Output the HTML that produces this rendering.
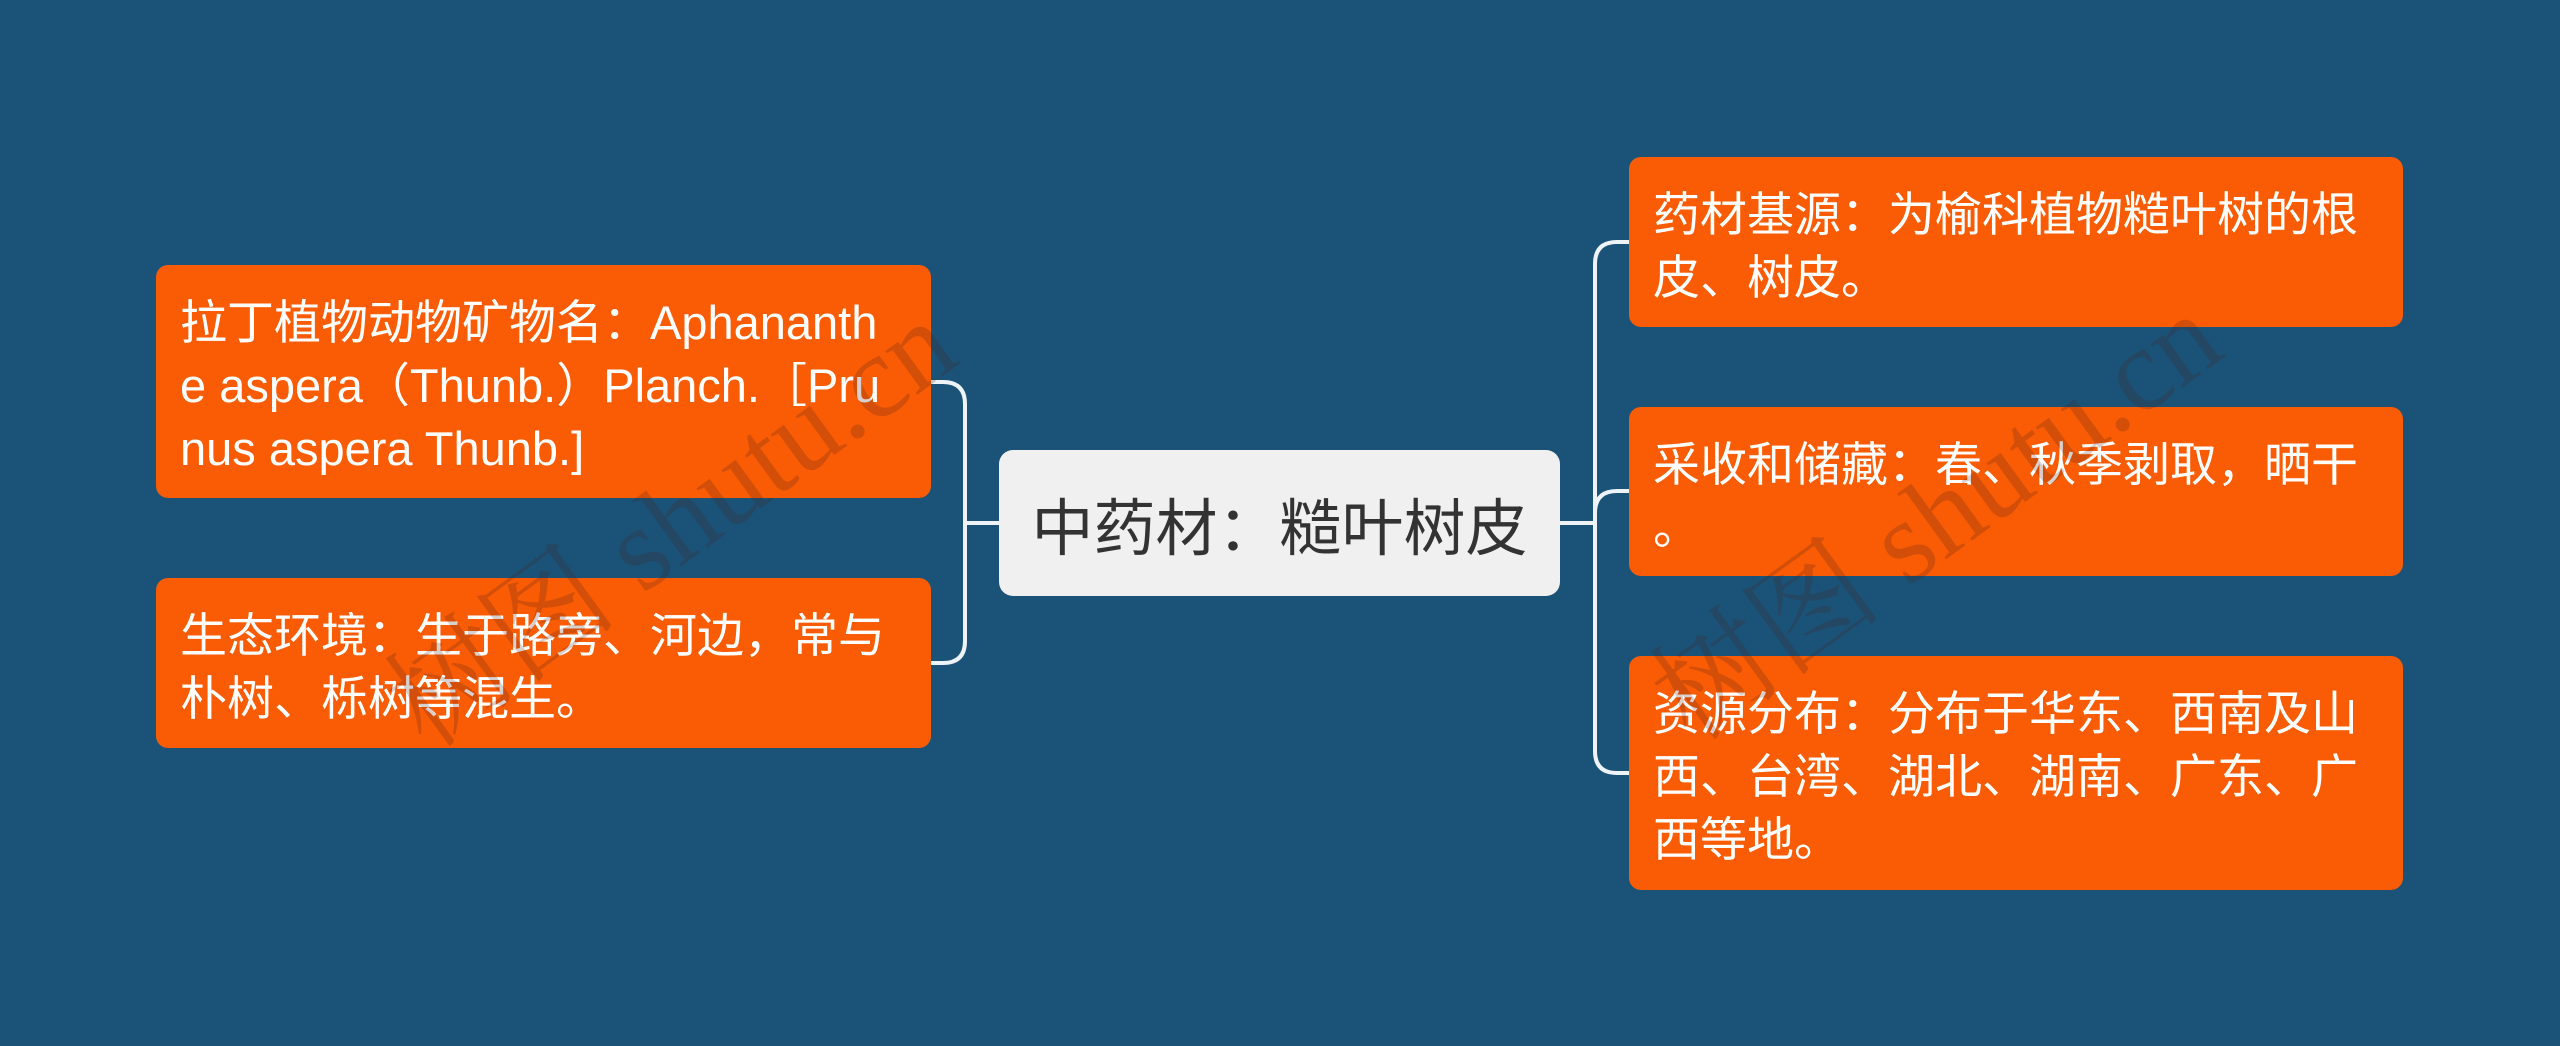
<!DOCTYPE html>
<html>
<head>
<meta charset="utf-8">
<style>
  html, body { margin: 0; padding: 0; }
  body {
    width: 2560px; height: 1046px; overflow: hidden; position: relative;
    background: #1b5378;
    font-family: "Liberation Sans", "Noto Sans CJK SC", sans-serif;
  }
  .box {
    position: absolute; box-sizing: border-box;
    background: #f95c04; border-radius: 12px;
    color: #ffffff; font-size: 47px; line-height: 63px;
    padding: 26px 0 0 24px; white-space: nowrap;
  }
  .center {
    position: absolute; box-sizing: border-box;
    left: 999px; top: 450px; width: 561px; height: 146px;
    background: #f0f0f0; border-radius: 14px;
    color: #333333; font-size: 62px;
    display: flex; align-items: center; justify-content: center;
    white-space: nowrap;
  }
  svg.lines { position: absolute; left: 0; top: 0; }
  .wm {
    position: absolute; white-space: nowrap;
    font-family: "Liberation Serif", "Noto Serif CJK SC", serif;
    font-size: 118px; color: rgba(70, 35, 30, 0.21);
    transform: translate(-50%, -50%) rotate(-36deg);
    pointer-events: none;
  }
</style>
</head>
<body>
<svg class="lines" width="2560" height="1046" viewBox="0 0 2560 1046">
  <g fill="none" stroke="#eef3f7" stroke-width="4" stroke-linecap="round">
    <path d="M999 523 H965 V404 Q965 382 943 382 H931"/>
    <path d="M999 523 H965 V641 Q965 663 943 663 H931"/>
    <path d="M1560 523 H1595 V264 Q1595 242 1617 242 H1629"/>
    <path d="M1560 523 H1595 V513 Q1595 491 1617 491 H1629"/>
    <path d="M1560 523 H1595 V751 Q1595 773 1617 773 H1629"/>
  </g>
</svg>

<div class="box" style="left:156px; top:265px; width:775px; height:233px;">拉丁植物动物矿物名：Aphananth<br>e aspera（Thunb.）Planch.［Pru<br>nus aspera Thunb.]</div>
<div class="box" style="left:156px; top:578px; width:775px; height:170px;">生态环境：生于路旁、河边，常与<br>朴树、栎树等混生。</div>

<div class="center">中药材：糙叶树皮</div>

<div class="box" style="left:1629px; top:157px; width:774px; height:170px;">药材基源：为榆科植物糙叶树的根<br>皮、树皮。</div>
<div class="box" style="left:1629px; top:407px; width:774px; height:169px;">采收和储藏：春、秋季剥取，晒干<br>。</div>
<div class="box" style="left:1629px; top:656px; width:774px; height:234px;">资源分布：分布于华东、西南及山<br>西、台湾、湖北、湖南、广东、广<br>西等地。</div>

<div class="wm" style="left:665px; top:515px;">树图 shutu.cn</div>
<div class="wm" style="left:1930px; top:508px;">树图 shutu.cn</div>
</body>
</html>
